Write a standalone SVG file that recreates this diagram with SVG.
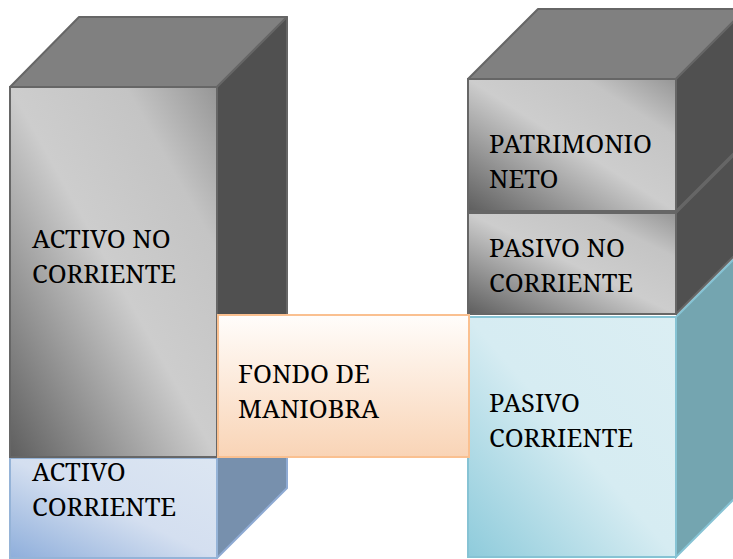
<svg xmlns="http://www.w3.org/2000/svg" width="733" height="559" viewBox="0 0 733 559">
<defs>
<linearGradient id="gGrey" x1="0" y1="1" x2="1" y2="0">
<stop offset="0" stop-color="#5e5e5e"/>
<stop offset="0.5" stop-color="#cdcdcd"/>
<stop offset="0.78" stop-color="#c4c4c4"/>
<stop offset="1" stop-color="#969696"/>
</linearGradient>
<linearGradient id="gBlue" x1="0" y1="1" x2="1" y2="0">
<stop offset="0" stop-color="#8eaedb"/>
<stop offset="0.5" stop-color="#d4dff0"/>
<stop offset="1" stop-color="#dce6f2"/>
</linearGradient>
<linearGradient id="gTeal" x1="0" y1="1" x2="1" y2="0">
<stop offset="0" stop-color="#8ecbdb"/>
<stop offset="0.5" stop-color="#d6ecf2"/>
<stop offset="1" stop-color="#dbeef3"/>
</linearGradient>
<linearGradient id="gPeach" x1="0" y1="0" x2="0" y2="1">
<stop offset="0" stop-color="#fffdfb"/>
<stop offset="1" stop-color="#f9d4b6"/>
</linearGradient>
</defs>
<style>
.top{fill:#808080;stroke:#666;stroke-width:2;stroke-linejoin:round}
.side{fill:#505050;stroke:#666;stroke-width:2;stroke-linejoin:round}
.frontG{fill:url(#gGrey);stroke:#666;stroke-width:2}
.sideB{fill:#7790ad;stroke:#8eaad3;stroke-width:2}
.frontB{fill:url(#gBlue);stroke:#95b3d7;stroke-width:2}
.sideT{fill:#74a5b0;stroke:#86c3d4;stroke-width:2}
.frontT{fill:url(#gTeal);stroke:#86c3d4;stroke-width:2}
.fondo{fill:url(#gPeach);stroke:#fac090;stroke-width:2}
</style>
<g font-family="'Noto Serif', 'DejaVu Serif', serif" font-size="25.5" fill="#000">
<g id="activo-corriente">
<polygon class="sideB" points="217,457 287,387 287,488 217,558"/>
<rect class="frontB" x="10" y="458" width="207" height="100"/>
<text x="32" y="481">ACTIVO</text>
<text x="32" y="516">CORRIENTE</text>
</g>
<g id="activo-no-corriente">
<polygon class="top" points="10,87 79,17 287,17 217,87"/>
<polygon class="side" points="217,87 287,17 287,387 217,457"/>
<rect class="frontG" x="10" y="87" width="207" height="370"/>
<text x="32" y="248">ACTIVO NO</text>
<text x="32" y="283">CORRIENTE</text>
</g>
<g id="pasivo-corriente">
<polygon class="sideT" points="676,317 746,247 746,487 676,557"/>
<rect class="frontT" x="468" y="317" width="208" height="240"/>
<text x="489" y="412">PASIVO</text>
<text x="489" y="447">CORRIENTE</text>
</g>
<g id="pasivo-no-corriente">
<polygon class="top" points="468,213 538,143 746,143 676,213"/>
<polygon class="side" points="676,213 746,143 746,244 676,314"/>
<rect class="frontG" x="468" y="213" width="208" height="101"/>
<text x="489" y="257">PASIVO NO</text>
<text x="489" y="292">CORRIENTE</text>
</g>
<g id="patrimonio-neto">
<polygon class="top" points="468,79 538,9 746,9 676,79"/>
<polygon class="side" points="676,79 746,9 746,141 676,211"/>
<rect class="frontG" x="468" y="79" width="208" height="132"/>
<text x="489" y="153">PATRIMONIO</text>
<text x="489" y="188">NETO</text>
</g>
<g id="fondo-de-maniobra">
<rect class="fondo" x="218" y="315" width="251" height="142"/>
<text x="238" y="383">FONDO DE</text>
<text x="238" y="418">MANIOBRA</text>
</g>
</g>
</svg>
